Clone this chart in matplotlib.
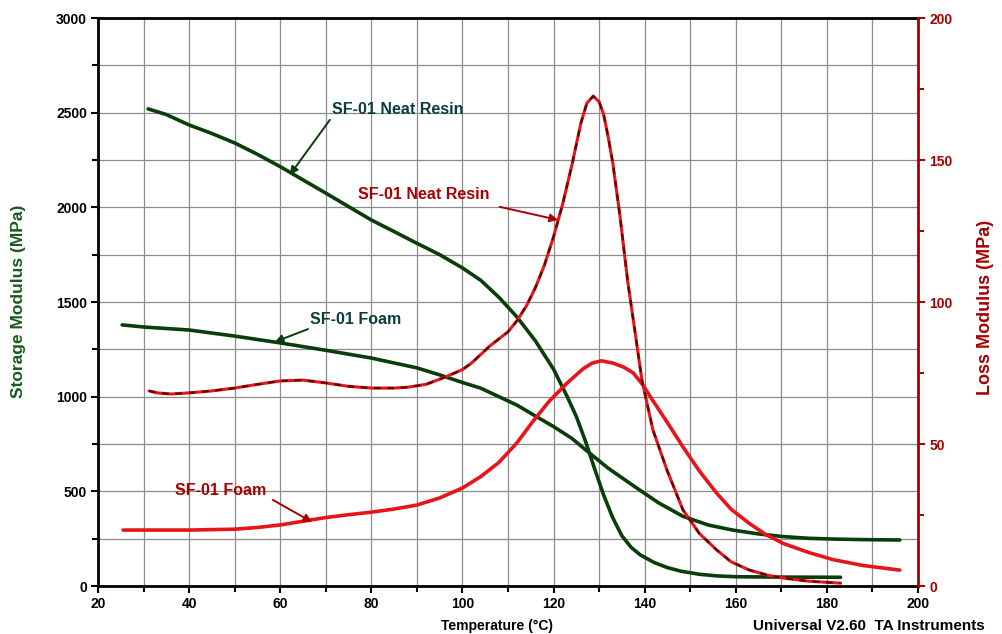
import matplotlib.pyplot as plt

# Storage modulus (left axis, MPa)
temp_neat_E = [31, 35, 40, 45, 50, 55, 60, 65, 70, 75, 80, 85, 90, 95, 100, 104, 108, 112,
               116, 120, 123, 125, 127, 129, 131, 133, 135, 137, 139, 142, 145, 148, 152,
               156, 160, 170, 183]
storage_neat = [2520, 2490, 2435, 2390, 2340, 2280, 2215, 2145, 2075, 2004, 1933, 1872,
                1810, 1750, 1680, 1615, 1525, 1420, 1295, 1145, 1000, 895, 765, 620, 480,
                360, 265, 205, 165, 125, 97, 78, 62, 53, 49, 47, 46]

temp_foam_E = [25.3, 30, 40, 50, 60, 70, 80, 90, 95, 100, 104, 108, 112, 116, 120, 124,
               128, 132, 137.5, 143, 148.4, 154, 159.4, 165, 170.4, 176, 181.3, 188, 196]
storage_foam = [1379, 1368, 1352, 1320, 1284, 1245, 1204, 1152, 1115, 1075, 1045, 1000,
                955, 898, 842, 780, 700, 622, 530, 440, 368, 322, 295, 275, 261, 252, 248,
                245, 243]

# Loss modulus (right axis, MPa)
temp_neat_L = [31.2, 33, 36, 40, 45, 50, 55, 60, 65, 70, 75, 80, 85, 88, 92, 95, 98, 100,
               102, 104, 106, 108, 110, 112, 114, 116, 118, 120, 122, 124, 126, 127.3,
               128.7, 130, 131, 132, 133, 134.6, 136.3, 137.5, 139.4, 141.8, 144.9, 148.4,
               152, 155.8, 159, 163, 167, 170.4, 176, 183]
loss_neat = [68.7, 68, 67.6, 68, 68.7, 69.7, 71, 72.2, 72.5, 71.5, 70.3, 69.7, 69.7, 70,
             71, 72.8, 74.8, 76.2, 78.5, 81.5, 84.5, 87, 89.5, 93.5, 98.5, 105, 113, 123,
             134.5, 148, 163, 170, 172.5, 170.5, 166, 158, 149, 130, 107, 93.7, 72.5, 55,
             40.8, 26.8, 18.5, 12.7, 8.5, 5.6, 3.8, 2.8, 1.7, 1]

temp_foam_L = [25.5, 40, 50, 55, 60, 65, 70, 75, 80, 85, 90, 95, 100, 104, 108, 112, 115.5,
               119, 123, 126.5, 128.5, 130.5, 133, 135.5, 137.5, 139.5, 141.3, 145, 148.4,
               152, 155.8, 159, 163, 166.5, 170.4, 176, 181.3, 188, 196]
loss_foam = [19.7, 19.7, 20, 20.6, 21.5, 22.8, 24.1, 25.1, 26, 27.1, 28.5, 31, 34.5, 38.5,
             43.5, 50.5, 58, 65, 71.5, 76.5, 78.5, 79.3, 78.5, 77, 75, 71, 66.5, 57.5, 49,
             40.5, 32.7, 27, 22, 18.2, 15, 11.8, 9.3, 7.2, 5.6]

x_ticks = [20, 40, 60, 80, 100, 120, 140, 160, 180, 200]
left_ticks = [0, 500, 1000, 1500, 2000, 2500, 3000]
right_ticks = [0, 50, 100, 150, 200]

green = '#0b3d0b'
red = '#e8141a'
dark_red = '#a80000'
font = 'Liberation Sans'

fig = plt.figure(figsize=(10.03, 6.34), dpi=100)
ax = fig.add_axes([98 / 1003, 48 / 634, 820 / 1003, 568 / 634])
ax2 = ax.twinx()

ax.set_xlim(20, 200)
ax.set_ylim(0, 3000)
ax2.set_ylim(0, 200)

ax.set_xticks(x_ticks)
ax.set_xticks(range(20, 201, 10), minor=True)
ax.set_yticks(left_ticks)
ax.set_yticks(range(0, 3001, 250), minor=True)
ax2.set_yticks(right_ticks)
ax2.set_yticks(range(0, 201, 25), minor=True)

ax.grid(True, which='both', color='#8c8c8c', lw=0.9)
ax.set_axisbelow(True)

ax.tick_params(which='both', direction='out', width=1.5, color='black')
ax.tick_params(which='major', length=5, labelsize=10, pad=3)
ax.tick_params(which='minor', length=4)
ax2.tick_params(which='both', direction='out', width=1.5, color=dark_red, labelcolor=dark_red)
ax2.tick_params(which='major', length=5, labelsize=10, pad=3)
ax2.tick_params(which='minor', length=4)
for a in (ax, ax2):
    for lab in a.get_xticklabels() + a.get_yticklabels():
        lab.set_fontfamily(font)
        lab.set_fontweight('bold')

for s in ('left', 'bottom', 'top'):
    ax.spines[s].set_linewidth(2)
    ax.spines[s].set_color('black')
ax2.spines['right'].set_color(dark_red)
ax2.spines['right'].set_linewidth(2)
ax2.spines['left'].set_visible(False)
ax2.spines['top'].set_visible(False)
ax2.spines['bottom'].set_visible(False)

# Curves
ax.plot(temp_neat_E, storage_neat, color=green, lw=2.6, solid_capstyle='round')
ax.plot(temp_foam_E, storage_foam, color=green, lw=2.6, solid_capstyle='round')
ax2.plot(temp_foam_L, loss_foam, color=red, lw=2.6, solid_capstyle='round')
ax2.plot(temp_neat_L, loss_neat, color=red, lw=2.2, solid_capstyle='round')
ax2.plot(temp_neat_L, loss_neat, color='#3a0000', lw=1.6, ls=(0, (3, 3)), alpha=0.8)

# Annotations: label text plus arrow
label_kw = dict(fontsize=11.5, fontfamily=font, fontweight='bold', va='center', ha='left')
arrow_g = dict(arrowstyle='-|>', color=green, lw=1.4, mutation_scale=12,
               shrinkA=0, shrinkB=0)
arrow_r = dict(arrowstyle='-|>', color=dark_red, lw=1.4, mutation_scale=12,
               shrinkA=0, shrinkB=0)

ax.text(71.4, 2515, 'SF-01 Neat Resin', color='#0b3d3d', **label_kw)
ax.annotate('', xy=(62.1, 2171), xytext=(70.9, 2462), arrowprops=arrow_g)
ax.text(66.5, 1405, 'SF-01 Foam', color='#0b3d3d', **label_kw)
ax.annotate('', xy=(58.8, 1289), xytext=(66.1, 1357), arrowprops=arrow_g)
ax2.text(77.1, 137.7, 'SF-01 Neat Resin', color=dark_red, **label_kw)
ax2.annotate('', xy=(121, 128.9), xytext=(108.2, 133.5), arrowprops=arrow_r)
ax2.text(36.9, 33.8, 'SF-01 Foam', color=dark_red, **label_kw)
ax2.annotate('', xy=(67, 22.5), xytext=(58.4, 30.3), arrowprops=arrow_r)

fig.text(19 / 1003, 1 - 301 / 634, 'Storage Modulus (MPa)', rotation=90, color='#1a5a1a',
         fontsize=12.5, fontfamily=font, fontweight='bold', ha='center', va='center')
fig.text(986 / 1003, 1 - 307 / 634, 'Loss Modulus (MPa)', rotation=90, color=dark_red,
         fontsize=13, fontfamily=font, fontweight='bold', ha='center', va='center')
fig.text(497 / 1003, 1 - 626 / 634, 'Temperature (°C)', color='black',
         fontsize=10, fontfamily=font, fontweight='bold', ha='center', va='center')
fig.text(753 / 1003, 1 - 626 / 634, 'Universal V2.60  TA Instruments', color='black',
         fontsize=11, fontfamily=font, fontweight='bold', ha='left', va='center')

fig.savefig('out.png', dpi=100)
